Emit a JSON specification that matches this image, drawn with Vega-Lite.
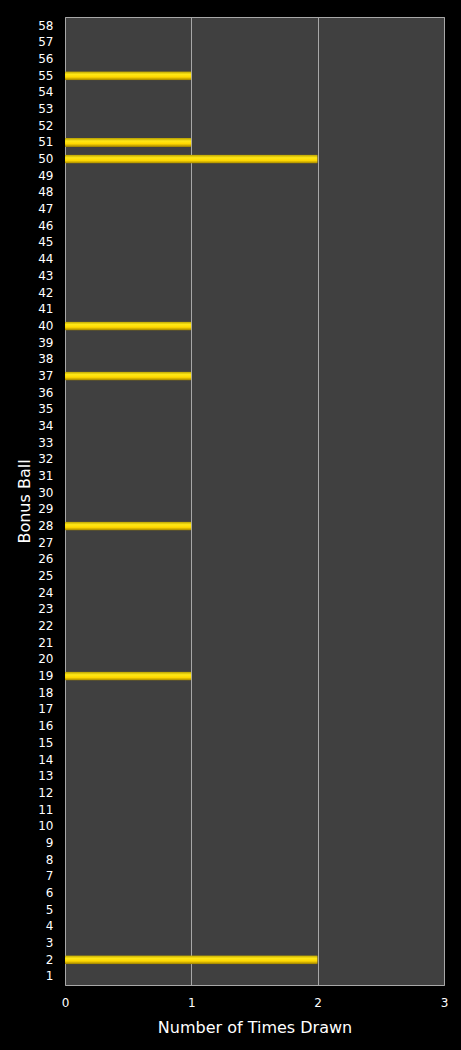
{
  "$schema": "https://vega.github.io/schema/vega-lite/v6.json",
  "width": 379,
  "height": 968,
  "autosize": "none",
  "padding": {"left": 65, "top": 17, "right": 17, "bottom": 65},
  "background": "#000000",
  "data": {
    "values": [
      {"ball": 1, "count": 0}, {"ball": 2, "count": 2}, {"ball": 3, "count": 0}, {"ball": 4, "count": 0},
      {"ball": 5, "count": 0}, {"ball": 6, "count": 0}, {"ball": 7, "count": 0}, {"ball": 8, "count": 0},
      {"ball": 9, "count": 0}, {"ball": 10, "count": 0}, {"ball": 11, "count": 0}, {"ball": 12, "count": 0},
      {"ball": 13, "count": 0}, {"ball": 14, "count": 0}, {"ball": 15, "count": 0}, {"ball": 16, "count": 0},
      {"ball": 17, "count": 0}, {"ball": 18, "count": 0}, {"ball": 19, "count": 1}, {"ball": 20, "count": 0},
      {"ball": 21, "count": 0}, {"ball": 22, "count": 0}, {"ball": 23, "count": 0}, {"ball": 24, "count": 0},
      {"ball": 25, "count": 0}, {"ball": 26, "count": 0}, {"ball": 27, "count": 0}, {"ball": 28, "count": 1},
      {"ball": 29, "count": 0}, {"ball": 30, "count": 0}, {"ball": 31, "count": 0}, {"ball": 32, "count": 0},
      {"ball": 33, "count": 0}, {"ball": 34, "count": 0}, {"ball": 35, "count": 0}, {"ball": 36, "count": 0},
      {"ball": 37, "count": 1}, {"ball": 38, "count": 0}, {"ball": 39, "count": 0}, {"ball": 40, "count": 1},
      {"ball": 41, "count": 0}, {"ball": 42, "count": 0}, {"ball": 43, "count": 0}, {"ball": 44, "count": 0},
      {"ball": 45, "count": 0}, {"ball": 46, "count": 0}, {"ball": 47, "count": 0}, {"ball": 48, "count": 0},
      {"ball": 49, "count": 0}, {"ball": 50, "count": 2}, {"ball": 51, "count": 1}, {"ball": 52, "count": 0},
      {"ball": 53, "count": 0}, {"ball": 54, "count": 0}, {"ball": 55, "count": 1}, {"ball": 56, "count": 0},
      {"ball": 57, "count": 0}, {"ball": 58, "count": 0}
    ]
  },
  "mark": {
    "type": "bar",
    "cornerRadius": 1,
    "color": {
      "gradient": "linear",
      "x1": 0, "y1": 0, "x2": 0, "y2": 1,
      "stops": [
        {"offset": 0, "color": "#B39B00"},
        {"offset": 0.35, "color": "#FFE817"},
        {"offset": 0.65, "color": "#FFD800"},
        {"offset": 1, "color": "#9A7E00"}
      ]
    }
  },
  "encoding": {
    "y": {
      "field": "ball",
      "type": "ordinal",
      "sort": "descending",
      "title": "Bonus Ball",
      "scale": {"paddingInner": 0.46, "paddingOuter": 0.25},
      "axis": {
        "domain": false,
        "ticks": false,
        "labelPadding": 12,
        "labelFontSize": 12,
        "labelColor": "#FFFFFF",
        "labelFont": "DejaVu Sans",
        "titleFont": "DejaVu Sans",
        "titleFontSize": 16,
        "titleFontWeight": "normal",
        "titleColor": "#FFFFFF",
        "titlePadding": 5
      }
    },
    "x": {
      "field": "count",
      "type": "quantitative",
      "title": "Number of Times Drawn",
      "scale": {"domain": [0, 3]},
      "axis": {
        "values": [0, 1, 2, 3],
        "format": "d",
        "domain": false,
        "ticks": false,
        "grid": true,
        "gridColor": "#A8A8A8",
        "gridWidth": 1,
        "labelFlush": false,
        "labelPadding": 12,
        "labelFontSize": 12,
        "labelColor": "#FFFFFF",
        "labelFont": "DejaVu Sans",
        "titleFont": "DejaVu Sans",
        "titleFontSize": 16,
        "titleFontWeight": "normal",
        "titleColor": "#FFFFFF",
        "titlePadding": 11
      }
    }
  },
  "config": {
    "view": {"fill": "#404040", "stroke": "#A8A8A8", "strokeWidth": 1}
  }
}
